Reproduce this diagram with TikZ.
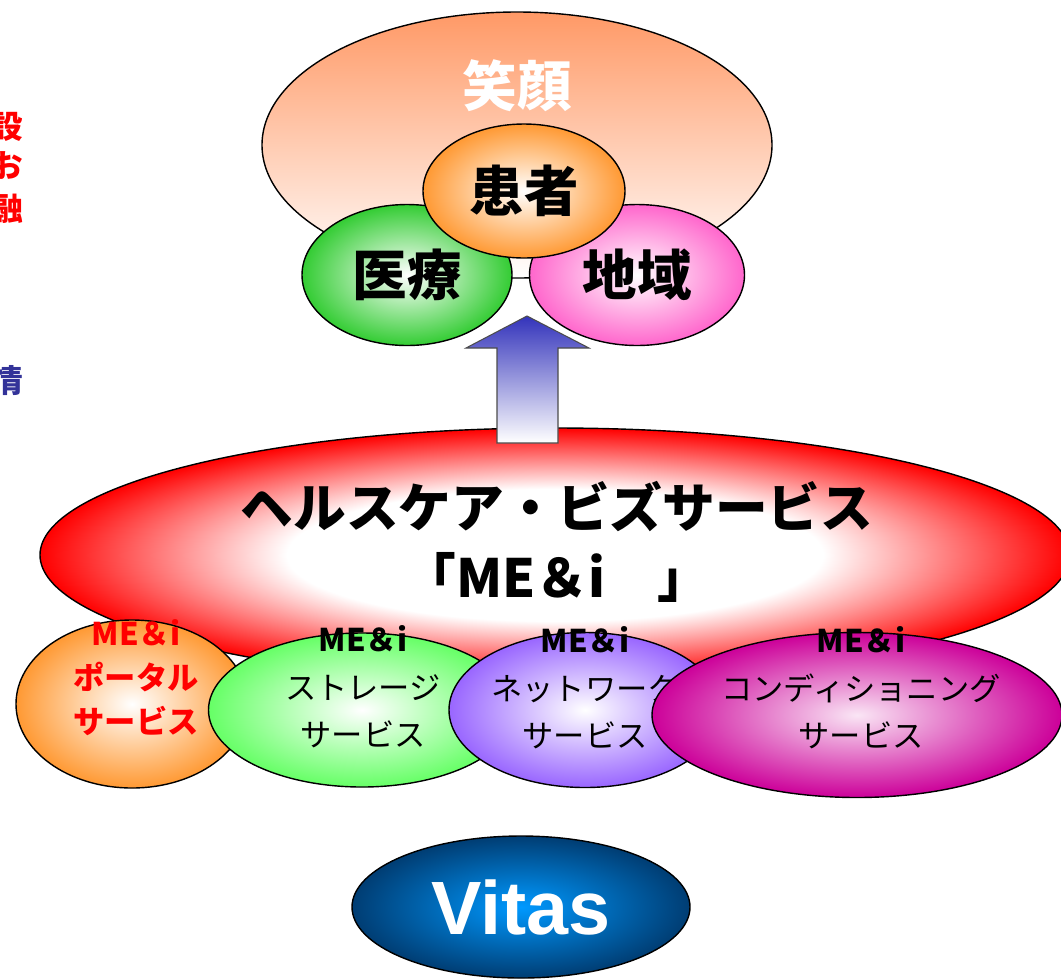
\documentclass[tikz,border=0pt]{standalone}
\usepackage{fontspec}
\usepackage{tikz}
\usetikzlibrary{shapes.geometric}

\newfontfamily\jp{Noto Sans CJK JP}
\newfontfamily\lat{Liberation Sans}

% Sfumatura dell'ellisse rossa
\pgfdeclareradialshading{aloneRosso}{\pgfpoint{0bp}{0bp}}{color(0bp)=(white); color(13bp)=(white); color(25bp)=(red); color(50bp)=(red)}

\begin{document}
\begin{tikzpicture}[x=0.02cm, y=-0.02cm,
  bolla/.style 2 args={ellipse, draw=black, line width=0.8pt, inner sep=0pt,
    minimum width=#1*0.02cm, minimum height=#2*0.02cm},
  titolo/.style={font=\jp\bfseries\fontsize{31}{40}\selectfont},
  voce/.style={font=\jp\fontsize{17.8}{27}\selectfont, align=center},
  margine/.style={anchor=east, inner sep=0pt, font=\jp\bfseries\fontsize{18}{20}\selectfont}]

% Colori
\definecolor{colSorriso}{HTML}{FF9966}
\definecolor{colPaziente}{HTML}{FF9933}
\definecolor{colMedico}{HTML}{33CC33}
\definecolor{colZona}{HTML}{FF66CC}
\definecolor{colFreccia}{HTML}{3333BB}
\definecolor{colPortale}{HTML}{FF9933}
\definecolor{colArchivio}{HTML}{66FF66}
\definecolor{colRete}{HTML}{9966FF}
\definecolor{colClima}{HTML}{CC0099}
\definecolor{colVitasIn}{HTML}{0099FF}
\definecolor{colVitasOut}{HTML}{003D73}
\definecolor{colBlu}{HTML}{333399}

% Cornice
\useasboundingbox (0,0) rectangle (1061,978);
\fill[white] (0,0) rectangle (1061,978);

% Testo tagliato a sinistra
\node[margine, text=red] (tagA) at (23,127) {設};
\node[margine, text=red] (tagB) at (23,166) {お};
\node[margine, text=red] (tagC) at (23,209) {融};
\node[margine, text=colBlu] (tagD) at (23,381) {情};

% Sorriso
\node[bolla={510}{266}, top color=colSorriso, bottom color=white] (sorriso) at (517,145) {};
\node[titolo, text=white] (sorrisoTxt) at (517,86) {笑顔};

% Medico, zona, paziente
\node[bolla={210}{141}, inner color=white, outer color=colMedico, titolo] (medico) at (407,275) {医療};
\node[bolla={215}{141}, inner color=white, outer color=colZona, titolo] (zona) at (637,275) {地域};
\node[bolla={202}{134}, inner color=white, outer color=colPaziente, titolo] (paziente) at (524,191) {患者};

% Servizio
\node[bolla={1030}{254}, shade, shading=aloneRosso] (servizio) at (555,555) {};
\node[titolo, align=center, font=\jp\bfseries\fontsize{30}{40}\selectfont] (servizioTxt) at (557,542)
  {ヘルスケア・ビズサービス\\「ME＆i　」};

% Freccia
\coordinate (punta) at (527,316);
\coordinate (coda) at (527,443);
\shade[top color=colFreccia, bottom color=white, draw=black!70, line width=0.6pt]
  (coda) ++(-30,0) -- ++(0,-95) -- ++(-31,0) -- (punta) -- ++(62,32) -- ++(-31,0) -- ++(0,95) -- cycle;

% Servizi ME&i
\node[bolla={232}{168}, inner color=white, outer color=colPortale] (portale) at (132,704) {};
\node[voce, text=red, font=\jp\bfseries\fontsize{17.8}{25}\selectfont] (portaleTxt) at (136,678)
  {ME＆i\\ポータル\\サービス};

\node[bolla={307}{154}, inner color=white, outer color=colArchivio] (archivio) at (362,710) {};
\node[voce] (archivioTxt) at (363,687) {{\bfseries ME＆i}\\ストレージ\\サービス};

\node[bolla={272}{155}, inner color=white, outer color=colRete] (rete) at (585,710) {};
\node[voce] (reteTxt) at (585,688) {{\bfseries ME＆i}\\ネットワーク\\サービス};

\node[bolla={410}{165}, inner color=white!90!colClima, outer color=colClima] (clima) at (857,715) {};
\node[voce] (climaTxt) at (861,688) {{\bfseries ME＆i}\\コンディショニング\\サービス};

% Vitas
\node[bolla={338}{142}, inner color=colVitasIn, outer color=colVitasOut, text=white,
  font=\lat\bfseries\fontsize{43}{50}\selectfont] (vitas) at (521,907) {Vitas};

\end{tikzpicture}
\end{document}
